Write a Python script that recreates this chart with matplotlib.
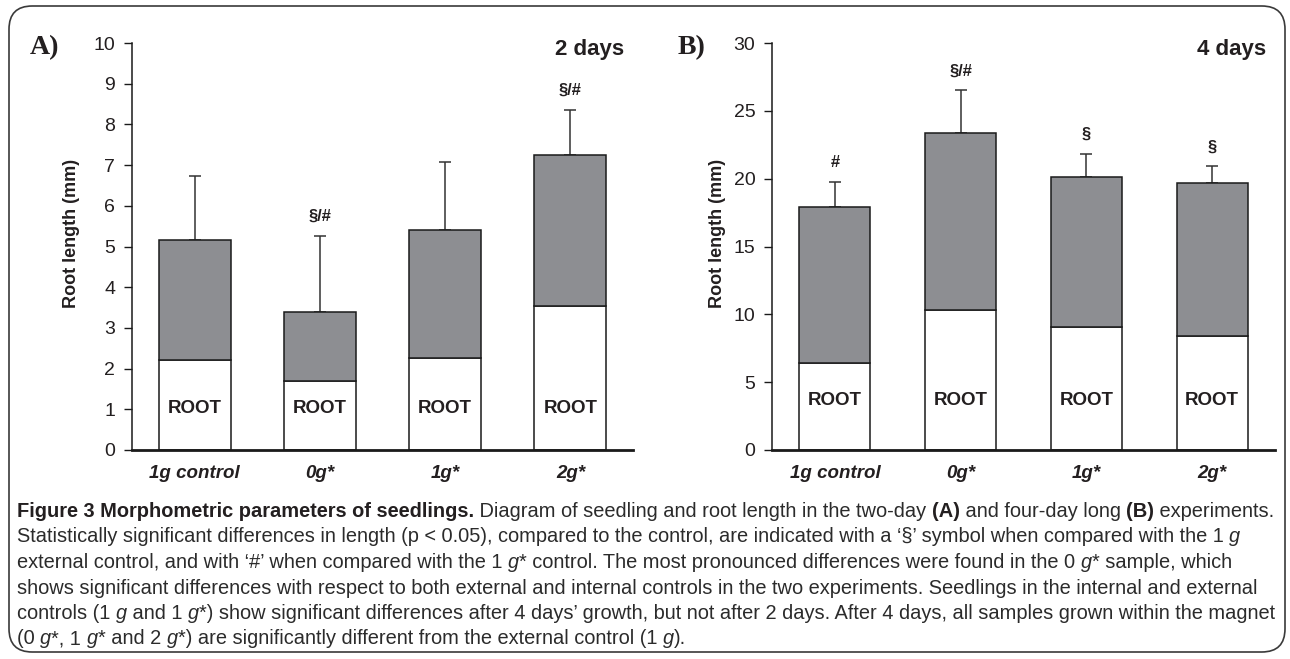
import matplotlib
matplotlib.use("Agg")
import matplotlib.pyplot as plt
from matplotlib import font_manager
from matplotlib.patches import FancyBboxPatch
import matplotlib.transforms as mtransforms
import numpy as np

# ---------------- data ----------------
categories = ["1g control", "0g*", "1g*", "2g*"]

root_2d = [2.2, 1.7, 2.25, 3.55]
total_2d = [5.15, 3.4, 5.4, 7.25]
err_2d = [1.57, 1.87, 1.68, 1.10]
sig_2d = ["", "§/#", "", "§/#"]

root_4d = [6.4, 10.3, 9.1, 8.4]
total_4d = [17.9, 23.35, 20.1, 19.65]
err_4d = [1.85, 3.15, 1.7, 1.25]
sig_4d = ["#", "§/#", "§", "§"]

yticks_2d = list(range(0, 11, 1))
yticks_4d = list(range(0, 31, 5))

# ---------------- fonts ----------------
names = {f.name for f in font_manager.fontManager.ttflist}
SANS = "Liberation Sans" if "Liberation Sans" in names else "DejaVu Sans"
SERIF = "Liberation Serif" if "Liberation Serif" in names else "DejaVu Serif"
CAP = "Liberation Sans Narrow" if "Liberation Sans Narrow" in names else SANS
plt.rcParams["font.family"] = SANS

W, H = 1290, 659
fig = plt.figure(figsize=(W / 100, H / 100), dpi=100)

GRAY = "#8d8e92"
TXT = "#231f20"


def px_axes(left, right, top, bottom):
    return [left / W, 1 - bottom / H, (right - left) / W, (bottom - top) / H]


def panel(rect, root, total, err, sig, yticks, ymax, sig_off, title,
          ylab_x, root_y, width):
    ax = fig.add_axes(rect)
    x = np.arange(len(categories))
    upper = [t - r for t, r in zip(total, root)]
    ax.errorbar(x, total, yerr=[np.zeros(len(err)), err], fmt="none",
                ecolor="#333333", elinewidth=1.1, capsize=4, capthick=1.1,
                zorder=1)
    ax.bar(x, root, width=width, color="white", edgecolor="#1a1a1a",
           linewidth=1.1, zorder=2)
    ax.bar(x, upper, bottom=root, width=width, color=GRAY,
           edgecolor="#1a1a1a", linewidth=1.1, zorder=2)
    trans = mtransforms.blended_transform_factory(ax.transData, ax.transAxes)
    for xi in x:
        ax.text(xi, root_y, "ROOT", transform=trans, ha="center", va="center",
                fontsize=13.5, fontweight="bold", color=TXT, zorder=3)
    for xi, t, e, s in zip(x, total, err, sig):
        if s:
            ax.text(xi, t + e + sig_off, s, ha="center", va="bottom",
                    fontsize=12, fontweight="bold", color=TXT)
    ax.set_xlim(-0.5, 3.5)
    ax.set_ylim(0, ymax)
    ax.set_yticks(yticks)
    ax.set_yticklabels([str(v) for v in yticks], fontsize=14, color=TXT)
    ax.set_xticks(x)
    ax.set_xticklabels(categories, fontsize=13.5, fontweight="bold",
                       fontstyle="italic", color=TXT)
    ax.tick_params(axis="x", length=0, pad=11)
    ax.tick_params(axis="y", length=6, width=1, direction="out", pad=6,
                   color="#1a1a1a")
    for s in ("top", "right"):
        ax.spines[s].set_visible(False)
    ax.spines["left"].set_linewidth(1.1)
    ax.spines["bottom"].set_linewidth(2.0)
    ax.spines["left"].set_color("#1a1a1a")
    ax.spines["bottom"].set_color("#1a1a1a")
    ax.set_ylabel("Root length (mm)", fontsize=13, fontweight="bold",
                  color=TXT)
    ax.yaxis.set_label_coords(ylab_x, 0.533)
    ax.text(0.982, 0.985, title, transform=ax.transAxes, ha="right",
            va="center", fontsize=16, fontweight="bold", color=TXT)
    ax.set_facecolor("none")
    return ax


panel(px_axes(132, 633, 43, 450), root_2d, total_2d, err_2d, sig_2d,
      yticks_2d, 10, 0.3, "2 days", -0.104, 0.103, 0.575)
panel(px_axes(772, 1275, 43, 450), root_4d, total_4d, err_4d, sig_4d,
      yticks_4d, 30, 0.9, "4 days", -0.091, 0.122, 0.565)

fig.text(45 / W, 1 - 48 / H, "A)", family=SERIF, fontweight="bold",
         fontsize=20, ha="center", va="center", color=TXT)
fig.text(692 / W, 1 - 48 / H, "B)", family=SERIF, fontweight="bold",
         fontsize=20, ha="center", va="center", color=TXT)

# border
border = FancyBboxPatch((9 / W, 7 / H), (1285 - 9) / W, (653 - 7) / H,
                        boxstyle="round,pad=0,rounding_size=0.018",
                        transform=fig.transFigure, fill=False,
                        edgecolor="#3a3a3a", linewidth=1.2,
                        mutation_aspect=W / H)
fig.add_artist(border)

# caption
N, B, I = "normal", "bold", "italic"
caption = [
    [("Figure 3 Morphometric parameters of seedlings.", B),
     (" Diagram of seedling and root length in the two-day ", N), ("(A)", B),
     (" and four-day long ", N), ("(B)", B), (" experiments.", N)],
    [("Statistically significant differences in length (p < 0.05), compared to the control, are indicated with a \u2018§\u2019 symbol when compared with the 1 ", N),
     ("g", I)],
    [("external control, and with \u2018#\u2019 when compared with the 1 ", N), ("g", I),
     ("* control. The most pronounced differences were found in the 0 ", N), ("g", I),
     ("* sample, which", N)],
    [("shows significant differences with respect to both external and internal controls in the two experiments. Seedlings in the internal and external", N)],
    [("controls (1 ", N), ("g", I), (" and 1 ", N), ("g", I),
     ("*) show significant differences after 4 days\u2019 growth, but not after 2 days. After 4 days, all samples grown within the magnet", N)],
    [("(0 ", N), ("g", I), ("*, 1 ", N), ("g", I), ("* and 2 ", N), ("g", I),
     ("*) are significantly different from the external control (1 ", N),
     ("g", I), (").", N)],
]

renderer = fig.canvas.get_renderer()


def draw_line(runs, x0, y, size, keep=True):
    x = x0
    made = []
    for txt, style in runs:
        kw = dict(family=CAP, fontsize=size, color="#2b2b2b", va="baseline",
                  ha="left")
        if style == B:
            kw["fontweight"] = "bold"
            kw["color"] = TXT
        elif style == I:
            kw["fontstyle"] = "italic"
        t = fig.text(x / W, 1 - y / H, txt, **kw)
        bb = t.get_window_extent(renderer)
        x += bb.width
        made.append(t)
    if not keep:
        for t in made:
            t.remove()
    return x - x0


base = 12.0
w1 = draw_line(caption[0], 0, 0, base, keep=False)
size = base * (1279 - 17) / w1
y0, dy = 517, 25.5
for k, runs in enumerate(caption):
    draw_line(runs, 17, y0 + k * dy, size)

fig.savefig("out.png", dpi=100)
